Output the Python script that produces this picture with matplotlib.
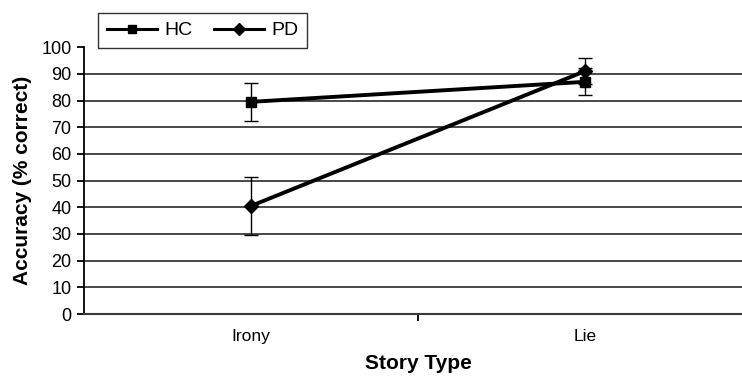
import matplotlib.pyplot as plt
from matplotlib.lines import Line2D
from matplotlib.ticker import FixedLocator, NullFormatter

plt.rcParams.update({
    "font.family": ["Liberation Sans", "DejaVu Sans"],
})

categories = ["Irony", "Lie"]
hc_mean = [79.5, 87.0]
hc_err = [7.0, 5.0]
pd_mean = [40.5, 91.0]
pd_err = [11.0, 5.0]

fig = plt.figure(figsize=(7.42, 3.77), dpi=100)
ax = fig.add_axes([0.1132, 0.167, 0.9003, 0.708])

x = list(range(len(categories)))
ax.errorbar(x, hc_mean, yerr=hc_err, color="black", lw=2.8, marker="s", ms=7,
            ecolor="black", elinewidth=1.0, capsize=5, capthick=1.0, zorder=4)
ax.errorbar(x, pd_mean, yerr=pd_err, color="black", lw=2.8, marker="D", ms=7,
            ecolor="black", elinewidth=1.0, capsize=5, capthick=1.0, zorder=4)

ax.set_xlim(-0.5, 1.5)
ax.set_ylim(0, 100)
ax.set_yticks(range(0, 101, 10))
for v in range(10, 100, 10):
    ax.axhline(v, color="#3a3a3a", lw=1.3, zorder=1)

ax.set_xticks(x)
ax.set_xticklabels(categories)
ax.tick_params(axis="x", which="major", length=0, pad=11, labelsize=12.5)
ax.xaxis.set_minor_locator(FixedLocator([0.5]))
ax.xaxis.set_minor_formatter(NullFormatter())
ax.tick_params(axis="x", which="minor", direction="out", length=5, width=1.3)
ax.tick_params(axis="y", direction="out", length=5, width=1.3, labelsize=13, pad=4)

for s in ["top", "right"]:
    ax.spines[s].set_visible(False)
ax.spines["left"].set_linewidth(1.3)
ax.spines["bottom"].set_linewidth(1.5)
ax.spines["bottom"].set_color("#3a3a3a")

ax.set_xlabel("Story Type", fontsize=15, fontweight="bold", labelpad=7)
ax.set_ylabel("Accuracy (% correct)", fontsize=15, fontweight="bold", labelpad=7)

handles = [
    Line2D([], [], color="black", lw=2.2, marker="s", ms=6),
    Line2D([], [], color="black", lw=2.2, marker="D", ms=6),
]
leg = ax.legend(handles, ["HC", "PD"], loc="upper left",
                bbox_to_anchor=(98 / 742, 1 - 13 / 377),
                bbox_transform=fig.transFigure, ncol=2, fontsize=14,
                frameon=True, fancybox=False, handlelength=2.6, handletextpad=0.35,
                columnspacing=1.1, borderaxespad=0, borderpad=0.45)
leg.get_frame().set_edgecolor("black")
leg.get_frame().set_linewidth(1.0)

fig.savefig("out.png", dpi=100)
